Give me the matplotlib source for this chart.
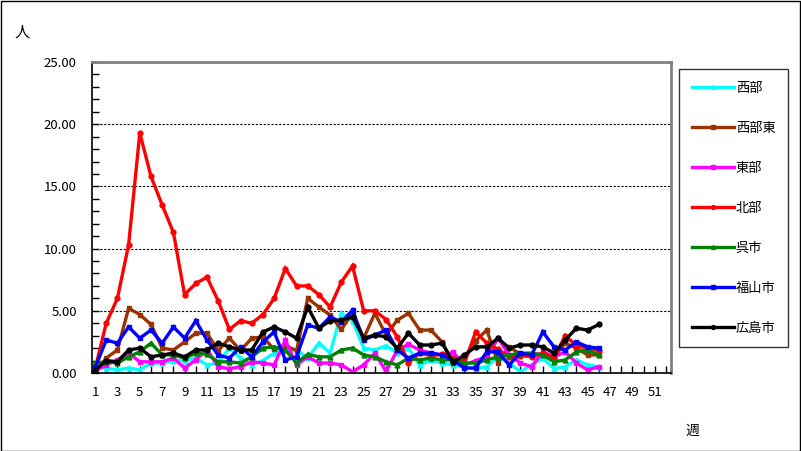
import matplotlib
matplotlib.use("Agg")
import matplotlib.pyplot as plt
from matplotlib.ticker import MultipleLocator, FixedLocator
import numpy as np

plt.rcParams['font.family'] = ['Noto Sans CJK JP', 'DejaVu Sans']

weeks = list(range(1, 47))

seibu = [0.6, 0.4, 0.25, 0.4, 0.25, 0.8, 0.8, 1.0, 1.0, 1.2, 0.65, 0.8, 2.0, 1.2, 0.65, 1.0,
         1.6, 1.85, 1.85, 1.2, 2.4, 1.6, 4.8, 4.2, 2.0, 1.85, 2.2, 1.6, 2.0, 0.65, 1.05, 0.8,
         0.65, 0.5, 0.35, 0.5, 1.3, 0.8, 0.1, 0.65, 1.2, 0.35, 0.5, 1.05, 0.65, 0.5]
seibu_higashi = [0.0, 1.2, 1.85, 5.2, 4.7, 3.9, 2.0, 1.85, 2.5, 3.2, 3.2, 1.8, 2.8, 1.8, 2.8, 2.9,
                 1.9, 2.2, 1.8, 6.0, 5.3, 4.65, 3.5, 4.8, 2.8, 4.8, 3.05, 4.25, 4.8, 3.45, 3.45, 2.5,
                 0.8, 1.2, 2.6, 3.45, 0.8, 2.1, 1.5, 1.5, 1.5, 1.3, 2.4, 2.0, 1.45, 1.45]
higashi = [0.15, 0.65, 1.05, 1.6, 0.9, 0.9, 0.9, 1.2, 0.4, 1.05, 1.9, 0.5, 0.35, 0.5, 0.9, 0.8,
           0.65, 2.65, 0.65, 1.3, 0.8, 0.8, 0.65, 0.1, 0.65, 1.6, 0.1, 1.85, 2.3, 1.85, 1.6, 1.45,
           1.65, 0.65, 1.0, 1.3, 2.8, 1.45, 0.8, 0.5, 1.7, 1.3, 1.7, 0.8, 0.25, 0.5]
hokubu = [0.3, 4.0, 6.0, 10.3, 19.3, 15.8, 13.5, 11.3, 6.3, 7.2, 7.7, 5.8, 3.5, 4.2, 4.0, 4.7,
          6.0, 8.4, 7.0, 7.0, 6.3, 5.3, 7.3, 8.6, 5.0, 5.0, 4.3, 2.9, 0.8, 1.6, 1.4, 1.5,
          1.2, 0.8, 3.3, 2.4, 1.9, 1.3, 1.4, 1.3, 1.6, 1.2, 3.0, 2.2, 2.0, 1.8]
kure = [0.8, 0.9, 0.8, 1.3, 1.7, 2.4, 1.45, 1.45, 1.2, 1.6, 1.5, 0.9, 0.9, 0.8, 1.3, 2.0,
        2.1, 1.85, 0.8, 1.5, 1.3, 1.3, 1.85, 2.0, 1.45, 1.3, 0.9, 0.65, 1.2, 1.05, 1.2, 1.05,
        1.05, 0.8, 0.8, 1.05, 1.3, 1.45, 1.6, 1.6, 1.45, 0.9, 1.05, 1.7, 1.85, 1.45]
fukuyama = [0.4, 2.65, 2.4, 3.7, 2.8, 3.45, 2.4, 3.7, 2.8, 4.2, 2.65, 1.45, 1.2, 2.1, 1.3, 2.5,
            3.3, 1.05, 1.3, 3.85, 3.6, 4.5, 4.1, 5.05, 2.65, 3.05, 3.45, 1.85, 1.2, 1.6, 1.6, 1.45,
            1.0, 0.4, 0.4, 1.7, 1.7, 0.65, 1.6, 1.45, 3.3, 2.1, 1.85, 2.5, 2.1, 2.0]
hiroshima = [0.2, 1.0, 0.9, 1.85, 2.0, 1.3, 1.45, 1.6, 1.3, 1.85, 1.85, 2.4, 2.1, 1.85, 1.85, 3.3,
             3.7, 3.3, 2.8, 5.3, 3.6, 4.2, 4.25, 4.5, 2.8, 3.05, 2.9, 2.0, 3.2, 2.25, 2.25, 2.4,
             0.85, 1.45, 2.1, 2.1, 2.8, 2.0, 2.25, 2.25, 2.1, 1.6, 2.65, 3.6, 3.45, 3.9]

series_names = ['西部', '西部東', '東部', '北部', '呉市', '福山市', '広島市']
series_data = [seibu, seibu_higashi, higashi, hokubu, kure, fukuyama, hiroshima]
series_colors = ['#00FFFF', '#993300', '#FF00FF', '#FF0000', '#008000', '#0000FF', '#000000']
series_markers = ['^', 's', 's', 'o', '^', 's', 'o']

W, H = 801, 451
fig = plt.figure(figsize=(W / 100, H / 100), dpi=100)
fig.patch.set_facecolor('white')
# outer border
fig.patches.append(plt.Rectangle((0.5 / W, 0.5 / H), 1 - 1.5 / W, 1 - 1.5 / H, transform=fig.transFigure,
                                 fill=False, edgecolor='black', linewidth=1.0))

L, R, T, B = 92, 671, 62, 373
ax = fig.add_axes([L / W, 1 - B / H, (R - L) / W, (B - T) / H])

for name, data, c, m in zip(series_names, series_data, series_colors, series_markers):
    ax.plot(weeks, data, color=c, linewidth=2.4, marker=m, markersize=3.5,
            markeredgecolor=c, markerfacecolor=c, label=name, solid_joinstyle='miter')

ax.set_ylim(0, 25)
ax.set_xlim(0.73, 52.45)
ax.yaxis.set_minor_locator(MultipleLocator(1))
ax.set_yticks([0, 5, 10, 15, 20, 25])
ax.set_yticklabels(['%.2f' % v for v in [0, 5, 10, 15, 20, 25]])
ax.xaxis.set_major_locator(FixedLocator(list(range(1, 53, 2))))
ax.xaxis.set_minor_locator(FixedLocator(list(range(2, 53, 2))))
ax.set_xticklabels([str(v) for v in range(1, 53, 2)])

ax.tick_params(axis='both', which='both', direction='in', labelsize=9.5, color='black')
ax.tick_params(axis='y', which='major', length=5, width=1, pad=11)
ax.tick_params(axis='y', which='minor', length=5, width=1)
ax.tick_params(axis='x', which='both', length=5, width=1, pad=9)

for v in [5, 10, 15, 20]:
    ax.axhline(v, color='black', linestyle=(0, (2, 1.5)), linewidth=0.8, zorder=0)

for s in ['top', 'right']:
    ax.spines[s].set_color('#808080')
    ax.spines[s].set_linewidth(2)
for s in ['left', 'bottom']:
    ax.spines[s].set_color('black')
    ax.spines[s].set_linewidth(1.2)

fig.text(22 / W, 1 - 32 / H, '人', fontsize=11, ha='center', va='center')
fig.text(692 / W, 1 - 431 / H, '週', fontsize=10, ha='center', va='center')

leg = fig.legend(loc='upper left', bbox_to_anchor=(679 / W, 1 - 69 / H), bbox_transform=fig.transFigure,
                 frameon=True, fontsize=9.5, handlelength=3.2, handletextpad=0.15,
                 labelspacing=2.05, borderpad=0.95, borderaxespad=0, fancybox=False, markerscale=0.8)
leg.get_frame().set_edgecolor('black')
leg.get_frame().set_linewidth(1.0)

fig.savefig('out.png', dpi=100, facecolor='white')
